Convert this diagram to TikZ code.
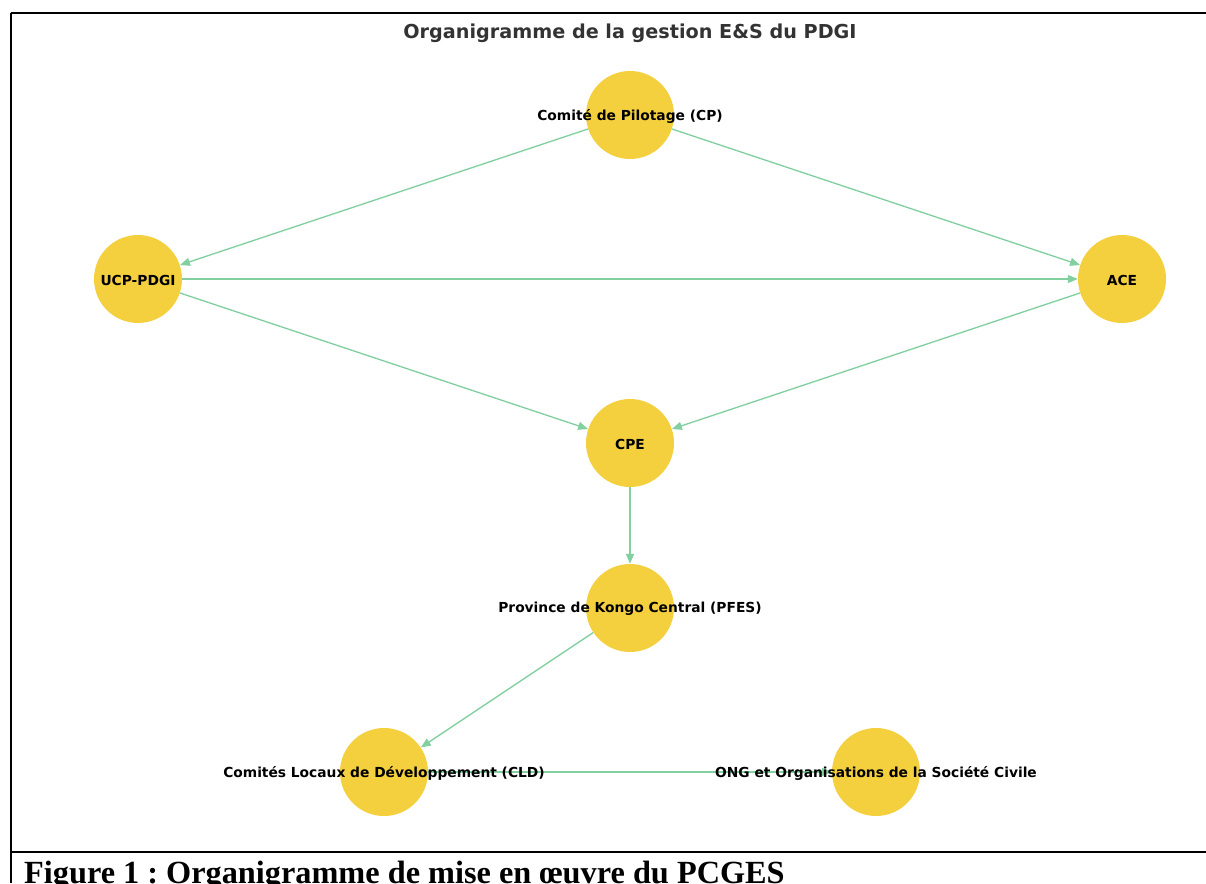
\documentclass[tikz,border=0pt]{standalone}
\usepackage{fontspec}
\setmainfont{DejaVu Sans}
\newfontfamily\capfont{Liberation Serif}
\usetikzlibrary{arrows.meta}
\frenchspacing
\definecolor{nodeyellow}{RGB}{244,208,63}
\definecolor{edgegreen}{RGB}{130,208,160}
\definecolor{titlegray}{RGB}{51,51,51}
\tikzset{
  orgnode/.style={circle, fill=nodeyellow, draw=none, minimum size=88pt, inner sep=0pt},
  orglabel/.style={font=\bfseries\fontsize{13.8}{16}\selectfont, text=black, inner sep=0pt},
  orgedge/.style={draw=edgegreen, line width=1.4pt, -{Triangle[length=10pt, width=8pt]}},
  frameline/.style={draw=black, line width=2pt},
}
\begin{document}
\begin{tikzpicture}[x=1pt, y=-1pt]
\useasboundingbox (0,0) rectangle (1206,883);
% frame
\coordinate (tl) at (10.5,13);
\coordinate (tr) at (1206,13);
\coordinate (bl) at (10.5,883);
\coordinate (ml) at (10.5,852);
\coordinate (mr) at (1206,852);
\draw[frameline] (tl) -- (tr);
\draw[frameline] (tl) -- (bl);
\draw[frameline, line width=2.5pt] (ml) -- (mr);
% title
\node[font=\bfseries\fontsize{19.2}{22}\selectfont, text=titlegray, inner sep=0pt] (title) at (630,33) {Organigramme de la gestion E\&S du PDGI};
% nodes
\node[orgnode] (cp) at (630,115) {};
\node[orgnode] (ucp) at (138,279) {};
\node[orgnode] (ace) at (1122,279) {};
\node[orgnode] (cpe) at (630,443) {};
\node[orgnode] (pfes) at (630,608) {};
\node[orgnode] (cld) at (384,772) {};
\node[orgnode] (ong) at (876,772) {};
% edges
\draw[orgedge] (cp) -- (ucp);
\draw[orgedge] (cp) -- (ace);
\draw[orgedge] (ucp) -- (ace);
\draw[orgedge] (ucp) -- (cpe);
\draw[orgedge] (ace) -- (cpe);
\draw[orgedge] (cpe) -- (pfes);
\draw[orgedge] (pfes) -- (cld);
\draw[orgedge] (cld) -- (ong);
% labels
\node[orglabel] (cpl) at (630,116) {Comité de Pilotage (CP)};
\node[orglabel] (ucpl) at (138,280) {UCP-PDGI};
\node[orglabel] (acel) at (1122,280) {ACE};
\node[orglabel] (cpel) at (630,444) {CPE};
\node[orglabel] (pfesl) at (630,609) {Province de Kongo Central (PFES)};
\node[orglabel] (cldl) at (384,773) {Comités Locaux de Développement (CLD)};
\node[orglabel] (ongl) at (876,773) {ONG et Organisations de la Société Civile};
% caption
\node[font=\capfont\bfseries\fontsize{32.3}{34}\selectfont, anchor=base west, inner sep=0pt] (caption) at (24,883) {Figure 1 : Organigramme de mise en œuvre du PCGES};
\end{tikzpicture}
\end{document}
